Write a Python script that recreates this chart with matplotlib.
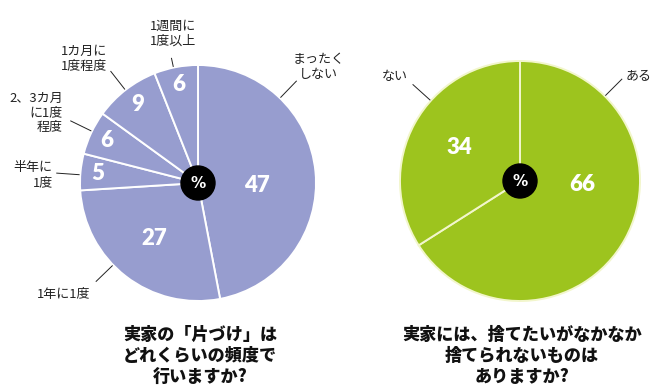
import numpy as np
import matplotlib
matplotlib.use("Agg")
import matplotlib.pyplot as plt

plt.rcParams['font.family'] = ['Noto Sans CJK JP', 'DejaVu Sans']

# 左: 片づけの頻度 (時計回り, 12時から)
left_labels = ["まったく\nしない", "1年に1度", "半年に\n1度", "2、3カ月\nに1度\n程度", "1カ月に\n1度程度", "1週間に\n1度以上"]
left_values = [47, 27, 5, 6, 9, 6]
left_title = "実家の「片づけ」は\nどれくらいの頻度で\n行いますか?"

# 右: 捨てたいが捨てられないもの
right_labels = ["ある", "ない"]
right_values = [66, 34]
right_title = "実家には、捨てたいがなかなか\n捨てられないものは\nありますか?"

W, H = 670, 392
fig = plt.figure(figsize=(W / 100, H / 100), dpi=100)
ax = fig.add_axes([0, 0, 1, 1])


def draw_pie(center, R, values, labels, color, edge, val_r, val_rot,
             lead_ang, lead_len, txt_off, txt_ha):
    cx, cy = center
    ax.pie(values, colors=[color] * len(values), startangle=90, counterclock=False,
           center=center, radius=R,
           wedgeprops=dict(edgecolor=edge, linewidth=1.4))
    cum = np.cumsum([0] + values[:-1])
    total = sum(values)
    for i, v in enumerate(values):
        mid = 90 - 360 * (cum[i] + v / 2) / total + val_rot[i]
        a = np.deg2rad(mid)
        ax.text(cx + val_r[i] * R * np.cos(a), cy + val_r[i] * R * np.sin(a), str(v),
                color="white", fontsize=16, fontweight="heavy", family=["Lato", "DejaVu Sans"],
                ha="center", va="center")
        # 引き出し線
        b = np.deg2rad(lead_ang[i])
        x0, y0 = cx + R * 1.01 * np.cos(b), cy + R * 1.01 * np.sin(b)
        x1, y1 = cx + R * lead_len[i] * np.cos(b), cy + R * lead_len[i] * np.sin(b)
        ax.plot([x0, x1], [y0, y1], color="#222222", lw=0.7)
        dx, dy = txt_off[i]
        ax.text(x1 + dx, y1 + dy, labels[i], fontsize=9.4, ha=txt_ha[i], va="center",
                linespacing=1.2, color="#222222", multialignment=txt_ha[i])
    ax.add_patch(plt.Circle(center, 17, color="black", zorder=5))
    ax.text(cx, cy, "%", color="white", fontsize=11, fontweight="bold",
            family=["DejaVu Sans"], ha="center", va="center", zorder=6)


# 画像座標 (y下向き) -> データ座標
draw_pie((198, H - 183), 118, left_values, left_labels, "#979dcf", "white",
         val_r=[0.5, 0.6, 0.85, 0.85, 0.84, 0.85],
         val_rot=[-8, 0, 0, 0, 0, 0],
         lead_ang=[46, 224, 176, 154, 128, 102],
         lead_len=[1.2, 1.2, 1.2, 1.2, 1.2, 1.08],
         txt_off=[(22, 14), (-33, -13), (-4, -2), (-8, 8), (-27, 12), (2, 25)],
         txt_ha=["center", "center", "right", "right", "center", "center"])

draw_pie((520, H - 181), 120, right_values, right_labels, "#9dc41e", "#f2f6cc",
         val_r=[0.52, 0.58],
         val_rot=[26, 0],
         lead_ang=[45, 138],
         lead_len=[1.2, 1.2],
         txt_off=[(17, 3), (-18, 8)],
         txt_ha=["center", "center"])

ax.text(200, H - 356, left_title, fontsize=12.3, fontweight="heavy", ha="center", va="center",
        linespacing=1.25, color="#111111")
ax.text(522, H - 356, right_title, fontsize=12.3, fontweight="heavy", ha="center", va="center",
        linespacing=1.25, color="#111111")

ax.set_xlim(0, W)
ax.set_ylim(0, H)
ax.set_aspect("equal")
ax.axis("off")

fig.savefig("out.png", dpi=100)
